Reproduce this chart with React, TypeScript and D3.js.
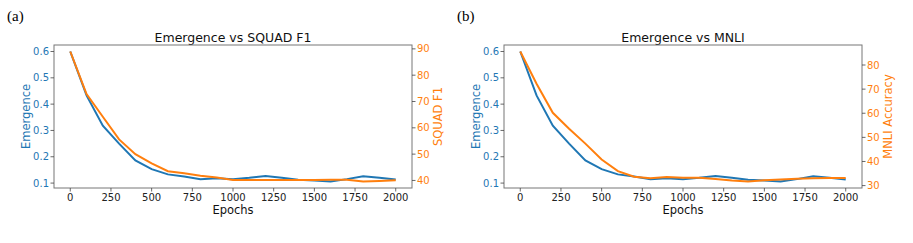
import React from "react";
import * as d3 from "d3";

const epochs = [0, 100, 200, 300, 400, 500, 600, 700, 800, 900, 1000, 1100, 1200, 1300, 1400, 1500, 1600, 1700, 1800, 1900, 2000];
const emergence = [0.6, 0.433, 0.318, 0.25, 0.186, 0.153, 0.133, 0.125, 0.115, 0.118, 0.115, 0.12, 0.127, 0.12, 0.113, 0.11, 0.106, 0.115, 0.126, 0.12, 0.114];
const squadF1 = [89.0, 72.8, 64.2, 55.6, 50.0, 46.5, 43.5, 42.7, 41.8, 41.1, 40.2, 40.2, 40.2, 40.2, 40.2, 40.2, 40.3, 40.3, 39.6, 39.8, 40.1];
const mnliAcc = [85.6, 72.2, 60.2, 53.6, 47.4, 40.8, 36.0, 33.7, 33.0, 33.6, 33.3, 33.3, 32.7, 32.1, 31.7, 32.2, 32.5, 32.8, 33.0, 33.1, 33.2];
const xTicks = [0, 250, 500, 750, 1000, 1250, 1500, 1750, 2000];
const emergenceTicks = [0.1, 0.2, 0.3, 0.4, 0.5, 0.6];
const squadTicks = [40, 50, 60, 70, 80, 90];
const mnliTicks = [30, 40, 50, 60, 70, 80];

const BLUE = "#1f77b4";
const ORANGE = "#ff7f0e";
const FONT = "DejaVu Sans, sans-serif";

function padDomain(vals: number[]): [number, number] {
  const [mn, mx] = d3.extent(vals) as [number, number];
  const m = (mx - mn) * 0.05;
  return [mn - m, mx + m];
}

type PanelProps = {
  x0: number;
  label: string;
  title: string;
  rightLabel: string;
  rightVals: number[];
  rightTicks: number[];
};

function Panel({ x0, label, title, rightLabel, rightVals, rightTicks }: PanelProps) {
  const left = x0 + 54;
  const right = x0 + 412;
  const top = 45;
  const bottom = 188;
  const xd = padDomain(epochs);
  const x = d3.scaleLinear().domain(xd).range([left, right]);
  const yL = d3.scaleLinear().domain(padDomain(emergence)).range([bottom, top]);
  const yR = d3.scaleLinear().domain(padDomain(rightVals)).range([bottom, top]);
  const lineL = d3.line<number>().x((_, i) => x(epochs[i])).y((d) => yL(d));
  const lineR = d3.line<number>().x((_, i) => x(epochs[i])).y((d) => yR(d));
  const cx = (left + right) / 2;
  const cy = (top + bottom) / 2;
  return (
    <g>
      <text x={x0 + 7} y={21} fontFamily="Liberation Serif, Times New Roman, serif" fontSize={15} fill="#000">{label}</text>
      <text x={cx} y={42} textAnchor="middle" fontFamily={FONT} fontSize={12.5} fill="#111">{title}</text>
      <path d={lineL(emergence) || ""} fill="none" stroke={BLUE} strokeWidth={2} />
      <path d={lineR(rightVals) || ""} fill="none" stroke={ORANGE} strokeWidth={2} />
      <rect x={left} y={top} width={right - left} height={bottom - top} fill="none" stroke="#777" strokeWidth={1} />
      {xTicks.map((t) => (
        <g key={"x" + t}>
          <line x1={x(t)} x2={x(t)} y1={bottom} y2={bottom + 3.5} stroke="#444" strokeWidth={0.8} />
          <text x={x(t)} y={201} textAnchor="middle" fontFamily={FONT} fontSize={10} fill="#222">{t}</text>
        </g>
      ))}
      {emergenceTicks.map((t) => (
        <g key={"l" + t}>
          <line x1={left - 3.5} x2={left} y1={yL(t)} y2={yL(t)} stroke="#444" strokeWidth={0.8} />
          <text x={left - 5} y={yL(t) + 3.6} textAnchor="end" fontFamily={FONT} fontSize={10} fill={BLUE}>{d3.format(".1f")(t)}</text>
        </g>
      ))}
      {rightTicks.map((t) => (
        <g key={"r" + t}>
          <line x1={right} x2={right + 3.5} y1={yR(t)} y2={yR(t)} stroke="#444" strokeWidth={0.8} />
          <text x={right + 5} y={yR(t) + 3.6} textAnchor="start" fontFamily={FONT} fontSize={10} fill={ORANGE}>{t}</text>
        </g>
      ))}
      <text x={cx} y={214} textAnchor="middle" fontFamily={FONT} fontSize={11.5} fill="#111">Epochs</text>
      <text transform={`translate(${x0 + 29.5},${cy}) rotate(-90)`} textAnchor="middle" fontFamily={FONT} fontSize={11.5} fill={BLUE}>Emergence</text>
      <text transform={`translate(${right + 30},${cy}) rotate(-90)`} textAnchor="middle" fontFamily={FONT} fontSize={11.5} fill={ORANGE}>{rightLabel}</text>
    </g>
  );
}

export default function App() {
  return (
    <svg width={913} height={243} style={{ position: "absolute", left: 0, top: 0, background: "#fff" }}>
      <rect width={913} height={243} fill="#fff" />
      <Panel x0={0} label="(a)" title="Emergence vs SQUAD F1" rightLabel="SQUAD F1" rightVals={squadF1} rightTicks={squadTicks} />
      <Panel x0={450} label="(b)" title="Emergence vs MNLI" rightLabel="MNLI Accuracy" rightVals={mnliAcc} rightTicks={mnliTicks} />
    </svg>
  );
}
